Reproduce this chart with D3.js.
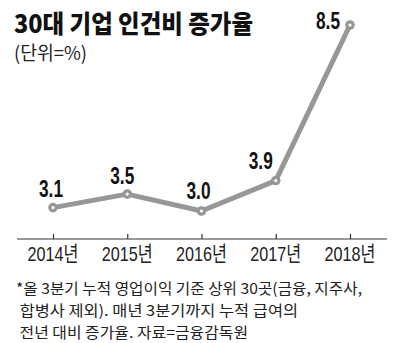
<!DOCTYPE html>
<html>
<head>
<meta charset="utf-8">
<script src="https://cdn.jsdelivr.net/npm/d3@7"></script>
<style>
  html, body { margin: 0; padding: 0; background: #fff; }
  svg { display: block; }
</style>
</head>
<body>
<svg id="chart" width="400" height="343"></svg>
<script>
// 30대 기업 인건비 증가율 (단위: %)
const years = ["2014년", "2015년", "2016년", "2017년", "2018년"];
const growth = [3.1, 3.5, 3.0, 3.9, 8.5];
const titleText = "30대 기업 인건비 증가율";
const unitText = "(단위=%)";
const noteLines = [
  "*올 3분기 누적 영업이익 기준 상위 30곳(금융, 지주사,",
  " 합병사 제외). 매년 3분기까지 누적 급여의",
  " 전년 대비 증가율. 자료=금융감독원"
];

// label nudges relative to each point [dx, dy]
const labelShift = [[-2, -11], [-5, -10], [-3, -12], [-15, -12], [-22, 4]];

const svg = d3.select("#chart");
const numFont = "'Liberation Sans', 'Noto Sans CJK KR', sans-serif";
const krFont = "'Noto Sans CJK KR', 'Noto Sans', sans-serif";
const lineColor = "#979797";

const x = d3.scalePoint().domain(years).range([53, 350]);
const y = d3.scaleLinear().domain([3.0, 8.5]).range([211, 25]);

// title and unit
svg.append("text")
  .attr("x", 14).attr("y", 33)
  .attr("font-family", krFont).attr("font-weight", 900)
  .attr("font-size", 25).attr("fill", "#111")
  .attr("textLength", 239).attr("lengthAdjust", "spacingAndGlyphs")
  .text(titleText);

svg.append("text")
  .attr("x", 14).attr("y", 60)
  .attr("font-family", krFont).attr("font-weight", 400)
  .attr("font-size", 19).attr("fill", "#222")
  .attr("textLength", 73).attr("lengthAdjust", "spacingAndGlyphs")
  .text(unitText);

// x axis with short upward ticks
const axisG = svg.append("g").attr("transform", "translate(0,239)");
axisG.append("line")
  .attr("x1", 17).attr("x2", 387)
  .attr("stroke", "#333").attr("stroke-width", 1.2);
const xAxis = d3.axisTop(x).tickSize(5).tickFormat("");
const ticksG = axisG.append("g").call(xAxis);
ticksG.select(".domain").remove();
ticksG.selectAll(".tick line").attr("stroke", "#333").attr("stroke-width", 1.2);

axisG.selectAll(".year")
  .data(years)
  .join("text")
  .attr("class", "year")
  .attr("x", d => x(d))
  .attr("y", 22)
  .attr("text-anchor", "middle")
  .attr("font-family", numFont)
  .attr("font-size", 21).attr("fill", "#222")
  .attr("textLength", 51).attr("lengthAdjust", "spacingAndGlyphs")
  .text(d => d);

// line
const line = d3.line()
  .x((d, i) => x(years[i]))
  .y(d => y(d));

svg.append("path")
  .datum(growth)
  .attr("d", line)
  .attr("fill", "none")
  .attr("stroke", lineColor)
  .attr("stroke-width", 5)
  .attr("stroke-linejoin", "round");

svg.selectAll(".dot")
  .data(growth)
  .join("circle")
  .attr("class", "dot")
  .attr("cx", (d, i) => x(years[i]))
  .attr("cy", d => y(d))
  .attr("r", 3.2)
  .attr("fill", "#fff")
  .attr("stroke", lineColor)
  .attr("stroke-width", 3.2);

svg.selectAll(".val")
  .data(growth)
  .join("text")
  .attr("class", "val")
  .attr("x", (d, i) => x(years[i]) + labelShift[i][0])
  .attr("y", (d, i) => y(d) + labelShift[i][1])
  .attr("text-anchor", "middle")
  .attr("font-family", numFont)
  .attr("font-weight", 700)
  .attr("font-size", 23).attr("fill", "#111")
  .attr("textLength", 24).attr("lengthAdjust", "spacingAndGlyphs")
  .text(d => d.toFixed(1));

// footnote
const noteWidths = [346, 282, 232];
svg.selectAll(".note")
  .data(noteLines)
  .join("text")
  .attr("class", "note")
  .attr("x", 16)
  .attr("y", (d, i) => 294 + i * 22)
  .attr("font-family", krFont)
  .attr("font-size", 15).attr("fill", "#222")
  .attr("textLength", (d, i) => noteWidths[i])
  .attr("lengthAdjust", "spacingAndGlyphs")
  .attr("xml:space", "preserve")
  .style("white-space", "pre")
  .text(d => d);
</script>
</body>
</html>
